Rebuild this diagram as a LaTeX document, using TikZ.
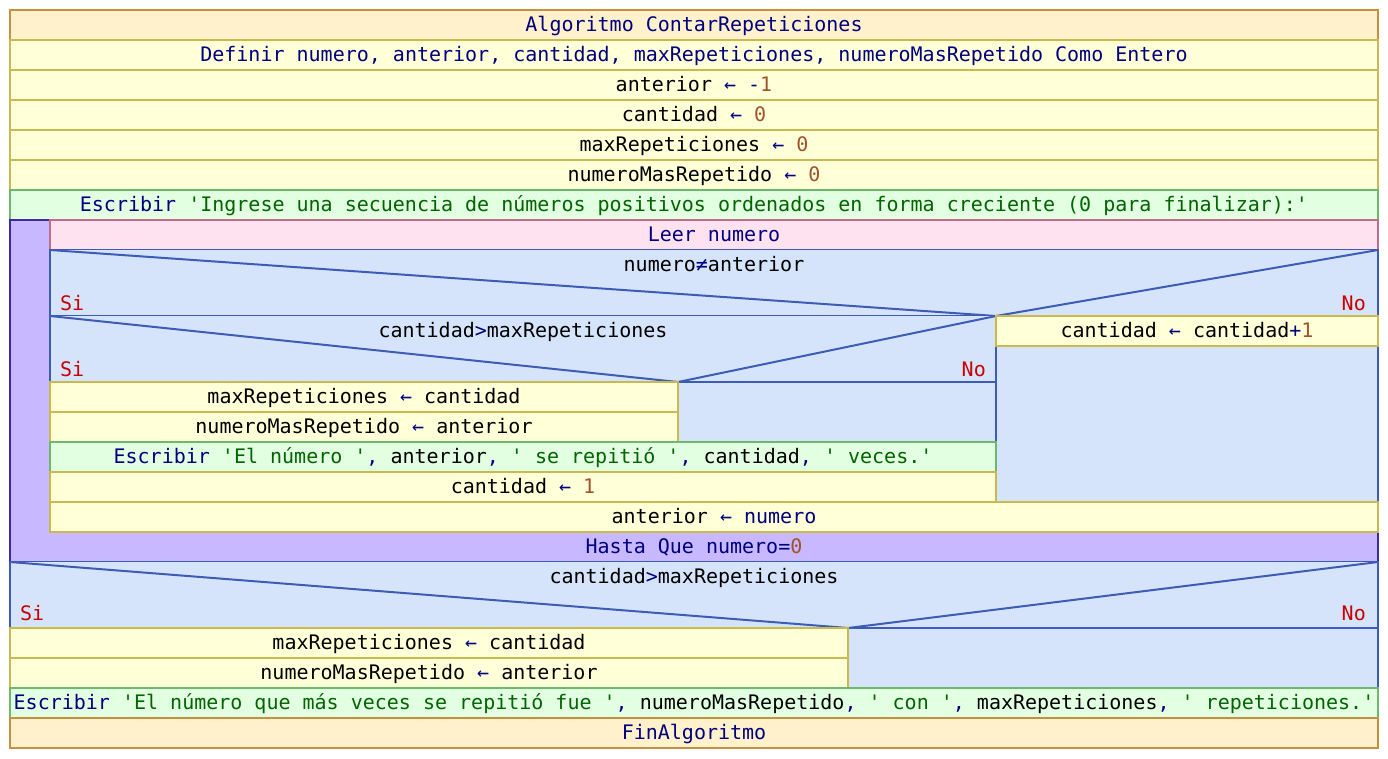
\documentclass[tikz,border=0pt]{standalone}
\usepackage{fontspec}
\setmonofont{DejaVu Sans Mono}
\usetikzlibrary{calc}
\definecolor{algfill}{HTML}{FFF1CC}
\definecolor{algline}{HTML}{C8903E}
\definecolor{asgfill}{HTML}{FFFFD8}
\definecolor{asgline}{HTML}{C8BA4E}
\definecolor{outfill}{HTML}{E2FFE2}
\definecolor{outline}{HTML}{6CB86C}
\definecolor{inpfill}{HTML}{FFE2F0}
\definecolor{inpline}{HTML}{C06C8A}
\definecolor{condfill}{HTML}{D6E4FB}
\definecolor{condline}{HTML}{3D5CB5}
\definecolor{loopfill}{HTML}{C8B8FF}
\definecolor{loopline}{HTML}{3A2AA8}
\definecolor{kwblue}{HTML}{00007F}
\definecolor{strgreen}{HTML}{006400}
\definecolor{numbrown}{HTML}{A0522D}
\definecolor{labred}{HTML}{C80000}
\newcommand{\kw}[1]{\textcolor{kwblue}{#1}}
\newcommand{\strg}[1]{\textcolor{strgreen}{#1}}
\newcommand{\numv}[1]{\textcolor{numbrown}{#1}}
\newcommand{\asg}{\kw{←}}
\newcommand{\sep}{\kw{,} }

\begin{document}
\begin{tikzpicture}[x=1pt,y=-1pt,
    every node/.style={font=\fontsize{20}{24}\selectfont\ttfamily, inner sep=0pt},
    nstext/.style={anchor=base},
    labsi/.style={anchor=base west, text=labred},
    labno/.style={anchor=base east, text=labred},
    algbox/.style={fill=algfill, draw=algline, line width=2pt},
    asgbox/.style={fill=asgfill, draw=asgline, line width=2pt},
    outbox/.style={fill=outfill, draw=outline, line width=2pt},
    inpbox/.style={fill=inpfill, draw=inpline, line width=2pt},
    condbox/.style={fill=condfill, draw=condline, line width=2pt},
    loopbox/.style={fill=loopfill, draw=loopline, line width=2pt}]
  \useasboundingbox (0,0) rectangle (1388,758);
  % header and declarations
  \draw[algbox] (10,10) rectangle (1378,40);
  \node[nstext] (alg) at (694,31) {\kw{Algoritmo ContarRepeticiones}};
  \draw[asgbox] (10,40) rectangle (1378,70);
  \node[nstext] (defs) at (694,61) {\kw{Definir numero, anterior, cantidad, maxRepeticiones, numeroMasRepetido Como Entero}};
  \draw[asgbox] (10,70) rectangle (1378,100);
  \node[nstext] (ant0) at (694,91) {anterior \asg{} \kw{-}\numv{1}};
  \draw[asgbox] (10,100) rectangle (1378,130);
  \node[nstext] (cant0) at (694,121) {cantidad \asg{} \numv{0}};
  \draw[asgbox] (10,130) rectangle (1378,160);
  \node[nstext] (max0) at (694,151) {maxRepeticiones \asg{} \numv{0}};
  \draw[asgbox] (10,160) rectangle (1378,190);
  \node[nstext] (nmr0) at (694,181) {numeroMasRepetido \asg{} \numv{0}};
  \draw[outbox] (10,190) rectangle (1378,220);
  \node[nstext] (msg1) at (694,211) {\kw{Escribir} \strg{'Ingrese una secuencia de números positivos ordenados en forma creciente (0 para finalizar):'}};
  % repeat loop
  \draw[loopbox] (10,220) rectangle (1378,562);
  \draw[inpbox] (50,220) rectangle (1378,250);
  \node[nstext] (leer) at (714,241) {\kw{Leer numero}};
  % outer decision
  \draw[condbox] (50,250) rectangle (1378,502);
  \draw[condbox] (50,250) -- (996,316) -- (1378,250);
  \draw[condbox] (50,316) -- (1378,316) (996,316) -- (996,502);
  \node[nstext] (c1) at (714,271) {numero\kw{≠}anterior};
  \node[labsi] (c1si) at (60,310) {Si};
  \node[labno] (c1no) at (1366,310) {No};
  % inner decision
  \draw[condbox] (50,316) -- (678,382) -- (996,316);
  \draw[condbox] (50,382) -- (996,382);
  \node[nstext] (c2) at (523,337) {cantidad\kw{>}maxRepeticiones};
  \node[labsi] (c2si) at (60,376) {Si};
  \node[labno] (c2no) at (986,376) {No};
  \draw[asgbox] (50,382) rectangle (678,412);
  \node[nstext] (max1) at (364,403) {maxRepeticiones \asg{} cantidad};
  \draw[asgbox] (50,412) rectangle (678,442);
  \node[nstext] (nmr1) at (364,433) {numeroMasRepetido \asg{} anterior};
  \draw[outbox] (50,442) rectangle (996,472);
  \node[nstext] (msg2) at (523,463) {\kw{Escribir} \strg{'El número '}\sep anterior\sep \strg{' se repitió '}\sep cantidad\sep \strg{' veces.'}};
  \draw[asgbox] (50,472) rectangle (996,502);
  \node[nstext] (cant1) at (523,493) {cantidad \asg{} \numv{1}};
  \draw[asgbox] (996,316) rectangle (1378,346);
  \node[nstext] (cant2) at (1187,337) {cantidad \asg{} cantidad\kw{+}\numv{1}};
  \draw[asgbox] (50,502) rectangle (1378,532);
  \node[nstext] (ant1) at (714,523) {anterior \asg{} \kw{numero}};
  \node[nstext] (hasta) at (694,553) {\kw{Hasta Que numero=}\numv{0}};
  % final decision
  \draw[condbox] (10,562) rectangle (1378,688);
  \draw[condbox] (10,562) -- (848,628) -- (1378,562);
  \draw[condbox] (10,628) -- (1378,628);
  \node[nstext] (c3) at (694,583) {cantidad\kw{>}maxRepeticiones};
  \node[labsi] (c3si) at (20,620) {Si};
  \node[labno] (c3no) at (1366,620) {No};
  \draw[asgbox] (10,628) rectangle (848,658);
  \node[nstext] (max2) at (429,649) {maxRepeticiones \asg{} cantidad};
  \draw[asgbox] (10,658) rectangle (848,688);
  \node[nstext] (nmr2) at (429,679) {numeroMasRepetido \asg{} anterior};
  \draw[outbox] (10,688) rectangle (1378,718);
  \node[nstext] (msg3) at (694,709) {\kw{Escribir} \strg{'El número que más veces se repitió fue '}\sep numeroMasRepetido\sep \strg{' con '}\sep maxRepeticiones\sep \strg{' repeticiones.'}};
  \draw[algbox] (10,718) rectangle (1378,748);
  \node[nstext] (fin) at (694,739) {\kw{FinAlgoritmo}};
\end{tikzpicture}
\end{document}
